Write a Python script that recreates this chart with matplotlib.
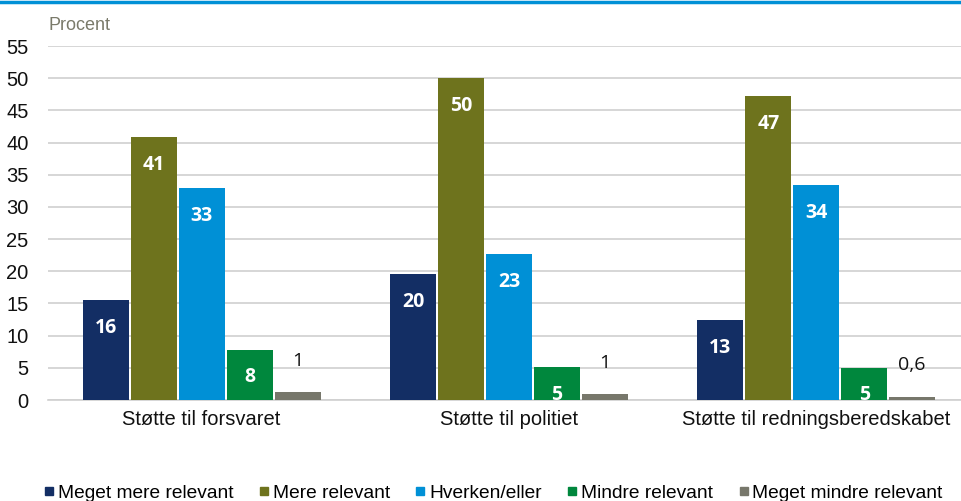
import matplotlib
matplotlib.use("Agg")
import matplotlib.pyplot as plt
from matplotlib.lines import Line2D
import numpy as np

categories = ["Støtte til forsvaret", "Støtte til politiet", "Støtte til redningsberedskabet"]
series_names = ["Meget mere relevant", "Mere relevant", "Hverken/eller", "Mindre relevant", "Meget mindre relevant"]
values = [
    [15.5, 19.6, 12.4],
    [40.8, 50.0, 47.2],
    [32.9, 22.7, 33.4],
    [7.8, 5.1, 5.0],
    [1.2, 0.9, 0.5],
]
labels = [
    ["16", "20", "13"],
    ["41", "50", "47"],
    ["33", "23", "34"],
    ["8", "5", "5"],
    ["1", "1", "0,6"],
]
colors = ["#132e64", "#6e731d", "#0090d6", "#00873d", "#77776b"]
yticks = [0, 5, 10, 15, 20, 25, 30, 35, 40, 45, 50, 55]

plt.rcParams['font.family'] = ['Liberation Sans', 'DejaVu Sans']

fig = plt.figure(figsize=(9.62, 5.01), dpi=100)
ax = fig.add_axes([48/962, 1-400/501, 922/962, 354/501])

x = np.arange(len(categories))
step = 0.156
width = 0.15
for i, (vals, labs, c) in enumerate(zip(values, labels, colors)):
    pos = x + (i - 2) * step
    ax.bar(pos, vals, width=width, color=c, zorder=3, label=series_names[i])
    for p, v, l in zip(pos, vals, labs):
        if v > 3:
            ax.text(p, v - 4.3, l, ha='center', va='center', color='white',
                    fontsize=14, fontweight='bold', family=['Open Sans', 'DejaVu Sans'], zorder=4)
        else:
            ax.text(p, v + 4.9, l, ha='center', va='center', color='#111111',
                    fontsize=14, family=['Open Sans', 'DejaVu Sans'], zorder=4)

ax.set_xlim(-0.5, 2.5)
ax.set_ylim(0, 55)
ax.set_yticks(yticks)
ax.set_yticklabels([str(t) for t in yticks], fontsize=14.5)
ax.set_xticks(x)
ax.set_xticklabels(categories, fontsize=14.5)
ax.tick_params(axis='both', length=0, colors='#111111')
ax.tick_params(axis='y', pad=14)
ax.tick_params(axis='x', pad=7)
ax.yaxis.grid(True, color='#d0d0d0', linewidth=1.2, zorder=0)
for s in ['top', 'right', 'left']:
    ax.spines[s].set_visible(False)
ax.spines['bottom'].set_color('#d0d0d0')
ax.spines['bottom'].set_linewidth(1.2)

fig.text(48/962, 1-26/501, "Procent", fontsize=13, color='#7a7a6a', va='center', ha='left')

# top blue rule
fig.add_artist(Line2D([0, 1], [1-2/501, 1-2/501], color='#0090d6', linewidth=2.5, transform=fig.transFigure))

handles = [Line2D([], [], marker='s', linestyle='none', markersize=6, color=c) for c in colors]
fig.legend(handles, series_names, loc='center', bbox_to_anchor=(492/962, 1-493/501), ncol=5,
           frameon=False, fontsize=13.8, handletextpad=0.05, columnspacing=1.2, handlelength=0.8,
           borderaxespad=0)

fig.savefig("out.png", dpi=100)
